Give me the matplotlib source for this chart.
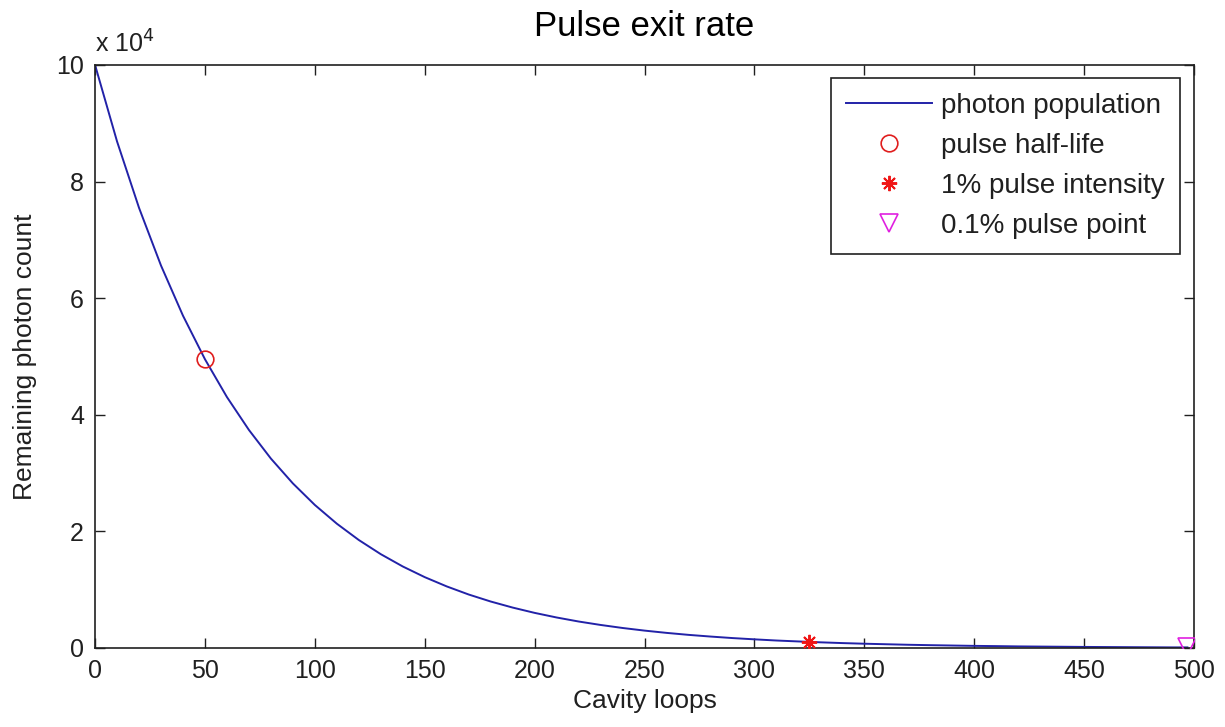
import matplotlib
matplotlib.use("Agg")
import matplotlib.pyplot as plt
from matplotlib.ticker import FuncFormatter

plt.rcParams['font.family'] = ['Liberation Sans', 'DejaVu Sans']

# Photon population per cavity loop
loops = [0, 10, 20, 30, 40, 50, 60, 70, 80, 90,
         100, 110, 120, 130, 140, 150, 160, 170, 180, 190,
         200, 210, 220, 230, 240, 250, 260, 270, 280, 290,
         300, 310, 320, 330, 340, 350, 360, 370, 380, 390,
         400, 410, 420, 430, 440, 450, 460, 470, 480, 490, 497]
photons = [100000, 86890, 75500, 65600, 57000, 49530, 43040, 37400, 32490, 28230,
           24530, 21320, 18520, 16090, 13980, 12150, 10560, 9170, 7970, 6930,
           6020, 5230, 4540, 3950, 3430, 2980, 2590, 2250, 1960, 1700,
           1480, 1280, 1120, 970, 840, 730, 640, 550, 480, 420,
           360, 320, 270, 240, 210, 180, 160, 140, 120, 100, 100]

# Highlighted points
half_life = (50, 49600)
one_percent = (325, 1000)
tenth_percent = (497, 100)

x_ticks = [0, 50, 100, 150, 200, 250, 300, 350, 400, 450, 500]
y_ticks = [0, 20000, 40000, 60000, 80000, 100000]

fig = plt.figure(figsize=(12.25, 7.27), dpi=100)
ax = fig.add_axes([0.0776, 0.1087, 0.8971, 0.8019])

ax.plot(loops, photons, color='#2222a8', lw=1.4, label='photon population')
ax.plot(*half_life, 'o', ms=12, mfc='none', mec='#e01e1e', mew=1.2,
        label='pulse half-life', zorder=5)
ax.plot(*one_percent, marker=(8, 2, 0), ms=11, color='#f01515', mew=1.4,
        linestyle='none', label='1% pulse intensity', zorder=5)
ax.plot(*tenth_percent, 'v', ms=13, mfc='none', mec='#e020e0', mew=1.2,
        label='0.1% pulse point', zorder=5)

ax.set_xlim(0, 500)
ax.set_ylim(0, 100000)
ax.set_xticks(x_ticks)
ax.set_yticks(y_ticks)
ax.yaxis.set_major_formatter(FuncFormatter(lambda v, p: f"{v / 1e4:g}"))
ax.tick_params(direction='in', top=True, right=True, length=7, width=1.0,
               labelsize=18, pad=8, colors='#202020', labelcolor='#202020')
for s in ax.spines.values():
    s.set_linewidth(1.2)
    s.set_color('#202020')

ax.text(0.0, 1.012, r'x 10$^{4}$', transform=ax.transAxes, fontsize=18,
        ha='left', va='bottom', color='#202020')

ax.set_title('Pulse exit rate', fontsize=25, pad=21, color='black')
ax.set_xlabel('Cavity loops', fontsize=19, labelpad=4, color='#202020')
ax.set_ylabel('Remaining photon count', fontsize=19, labelpad=14, color='#202020')

leg = ax.legend(loc='upper right', bbox_to_anchor=(0.987, 0.978), borderaxespad=0,
                fontsize=20, handlelength=3.1, labelspacing=0.5, fancybox=False,
                edgecolor='#202020', framealpha=1, handletextpad=0.3,
                borderpad=0.55)
leg.get_frame().set_linewidth(1.2)
for t in leg.get_texts():
    t.set_color('#202020')

fig.savefig('out.png', dpi=100, facecolor='white')
